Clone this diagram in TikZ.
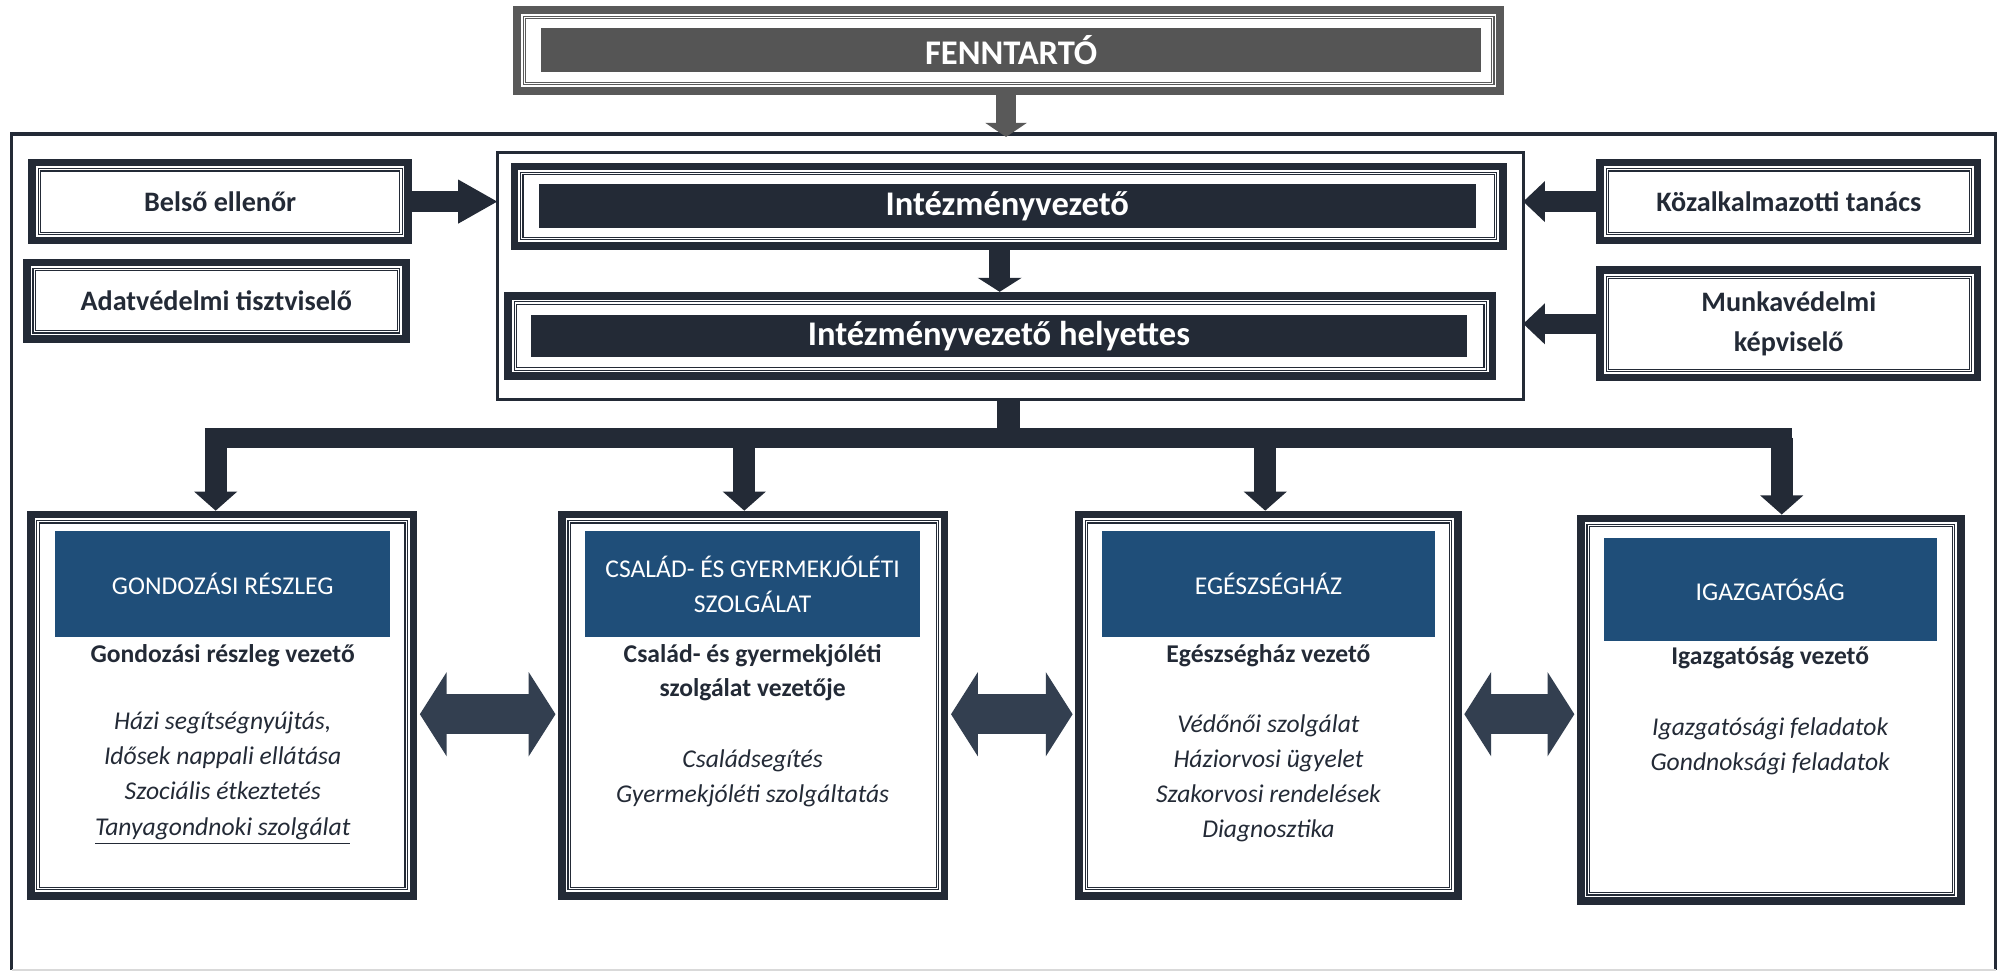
\documentclass[tikz,border=0pt]{standalone}
\usepackage{fontspec}
\setmainfont{Carlito}
\usetikzlibrary{arrows.meta}
\definecolor{dk}{HTML}{232A36}
\definecolor{hdr}{HTML}{1F4E79}
\definecolor{slate}{HTML}{333F50}
\definecolor{gry}{HTML}{555555}
\definecolor{gryb}{HTML}{595959}
\newcommand\dblfr[2]{%
  \draw[#2, line width=3pt] ([shift={(1.5pt,-1.5pt)}]#1.north west) rectangle ([shift={(-1.5pt,1.5pt)}]#1.south east);
  \draw[#2, line width=0.45pt] ([shift={(3.9pt,-3.9pt)}]#1.north west) rectangle ([shift={(-3.9pt,3.9pt)}]#1.south east);
  \draw[#2, line width=0.45pt] ([shift={(4.8pt,-4.8pt)}]#1.north west) rectangle ([shift={(-4.8pt,4.8pt)}]#1.south east);}
\tikzset{
  frm/.style={rectangle, inner sep=0pt, outer sep=0pt},
  side/.style={frm, text=dk, font=\fontsize{11}{15.5}\selectfont\bfseries, align=center},
  bar/.style={frm, fill=dk, text=white, font=\fontsize{13.5}{16}\selectfont\bfseries},
  hd/.style={frm, fill=hdr, text=white, font=\fontsize{10}{13.5}\selectfont, align=center},
  lead/.style={inner sep=0pt, text=dk, font=\fontsize{10}{13.5}\selectfont\bfseries, align=center},
  lst/.style={inner sep=0pt, text=dk, font=\fontsize{10}{13.75}\selectfont\itshape, align=center},
  arr/.style={draw=dk},
  darr/.style={draw=slate, line width=15.5pt, {Triangle[width=32.5pt,length=10.5pt]}-{Triangle[width=32.5pt,length=10.5pt]}, shorten <=1pt, shorten >=1pt},
}
\begin{document}
\begin{tikzpicture}[x=0.5pt,y=-0.5pt]
\useasboundingbox (0,0) rectangle (1568,758.6);
% outer frame
\draw[dk, line width=1.5pt] (9,758) -- (9,105) -- (1559,105) -- (1559,758);
\draw[black!15, line width=0.8pt] (9,757.8) -- (1559,757.8);
% FENNTARTO
\node[frm, minimum width=387pt, minimum height=34.5pt] (fenn) at (788,39.4) {};
\dblfr{fenn}{gryb}
\node[frm, fill=gry, text=white, font=\fontsize{13.5}{16}\selectfont\bfseries, minimum width=367pt, minimum height=17pt] (fennt) at (790,39) {FENNTARTÓ};
\coordinate (ftop) at (786,107);
\draw[gryb, line width=7.5pt, -{Triangle[width=16pt,length=5.5pt]}] (fenn.south -| ftop) -- (ftop);
% central container
\node[frm, draw=dk, line width=1.2pt, minimum width=400.5pt, minimum height=96.5pt] (ctr) at (789.5,215.5) {};
\node[frm, minimum width=389pt, minimum height=34pt] (ivez) at (788,161) {};
\dblfr{ivez}{dk}
\node[bar, minimum width=366pt, minimum height=17pt] (ivezt) at (787,161) {Intézményvezető};
\node[frm, minimum width=387.5pt, minimum height=34.5pt] (ihely) at (781.5,262.5) {};
\dblfr{ihely}{dk}
\node[bar, minimum width=365.5pt, minimum height=16.5pt] (ihelyt) at (780.5,262.5) {Intézményvezető helyettes};
\coordinate (a1) at (781,195);
\draw[dk, line width=8pt, -{Triangle[width=17pt,length=5.5pt]}] (a1) -- (a1 |- ihely.north);
% side boxes
\node[side, minimum width=150pt, minimum height=33.5pt] (belso) at (172,157.5) {Belső ellenőr};
\dblfr{belso}{dk}
\node[side, minimum width=151pt, minimum height=33pt] (adat) at (169,235) {Adatvédelmi tisztviselő};
\dblfr{adat}{dk}
\node[side, minimum width=150.5pt, minimum height=33.5pt] (kozalk) at (1397.5,157.5) {Közalkalmazotti tanács};
\dblfr{kozalk}{dk}
\node[side, minimum width=150.5pt, minimum height=45pt] (munka) at (1397.5,253) {Munkavédelmi\\képviselő};
\dblfr{munka}{dk}
\draw[dk, line width=8pt, -{Triangle[width=16pt,length=15.5pt]}] (belso.east) -- (ctr.west |- belso.east);
\draw[dk, line width=8pt, -{Triangle[width=15.5pt,length=8.5pt]}] (kozalk.west) -- (ctr.east |- kozalk.west);
\draw[dk, line width=8pt, -{Triangle[width=15.5pt,length=8.5pt]}] (munka.west) -- (ctr.east |- munka.west);
% lower boxes
\node[frm, minimum width=152.5pt, minimum height=152pt] (g1) at (173.5,551) {};
\dblfr{g1}{dk}
\node[hd, minimum width=131pt, minimum height=41.5pt] (g1h) at (174,456.5) {GONDOZÁSI RÉSZLEG};
\node[lead] (g1a) at (174,512) {Gondozási részleg vezető};
\node[lst] (g1b) at (174,608) {Házi segítségnyújtás,\\Idősek nappali ellátása\\Szociális étkeztetés\\\underline{Tanyagondnoki szolgálat}};
\node[frm, minimum width=152.5pt, minimum height=152pt] (g2) at (588.5,551) {};
\dblfr{g2}{dk}
\node[hd, minimum width=131pt, minimum height=41.5pt] (g2h) at (588,456.5) {CSALÁD- ÉS GYERMEKJÓLÉTI\\[0pt]SZOLGÁLAT};
\node[lead] (g2a) at (588,525.5) {Család- és gyermekjóléti\\szolgálat vezetője};
\node[lst] (g2b) at (588,608) {Családsegítés\\Gyermekjóléti szolgáltatás};
\node[frm, minimum width=151pt, minimum height=152pt] (g3) at (991,551) {};
\dblfr{g3}{dk}
\node[hd, minimum width=130pt, minimum height=41.5pt] (g3h) at (991,456.5) {EGÉSZSÉGHÁZ};
\node[lead] (g3a) at (991,512) {Egészségház vezető};
\node[lst] (g3b) at (991,608) {Védőnői szolgálat\\Háziorvosi ügyelet\\Szakorvosi rendelések\\Diagnosztika};
\node[frm, minimum width=151.5pt, minimum height=152.5pt] (g4) at (1383.5,554.5) {};
\dblfr{g4}{dk}
\node[hd, minimum width=130pt, minimum height=40.5pt] (g4h) at (1383,460.5) {IGAZGATÓSÁG};
\node[lead] (g4a) at (1383,514) {Igazgatóság vezető};
\node[lst] (g4b) at (1383,583) {Igazgatósági feladatok\\Gondnoksági feladatok};
% distribution bus
\coordinate (bus) at (788,342);
\coordinate (busl) at (160,342);
\coordinate (busr) at (1400,342);
\draw[dk, line width=9pt] (bus |- ctr.south) -- (bus);
\draw[dk, line width=8pt] (busl) -- (busr);
\coordinate (t1) at (168.5,342);
\coordinate (t2) at (581.5,342);
\coordinate (t3) at (988.5,342);
\coordinate (t4) at (1392,342);
\draw[dk, line width=8.5pt, -{Triangle[width=16.5pt,length=7.5pt]}] (t1) -- (t1 |- g1.north);
\draw[dk, line width=8.5pt, -{Triangle[width=16.5pt,length=7.5pt]}] (t2) -- (t2 |- g2.north);
\draw[dk, line width=8.5pt, -{Triangle[width=16.5pt,length=7.5pt]}] (t3) -- (t3 |- g3.north);
\draw[dk, line width=8.5pt, -{Triangle[width=16.5pt,length=7.5pt]}] (t4) -- (t4 |- g4.north);
% double arrows
\coordinate (dy) at (0,558);
\draw[darr] (g1.east |- dy) -- (g2.west |- dy);
\draw[darr] (g2.east |- dy) -- (g3.west |- dy);
\draw[darr] (g3.east |- dy) -- (g4.west |- dy);
\end{tikzpicture}
\end{document}
